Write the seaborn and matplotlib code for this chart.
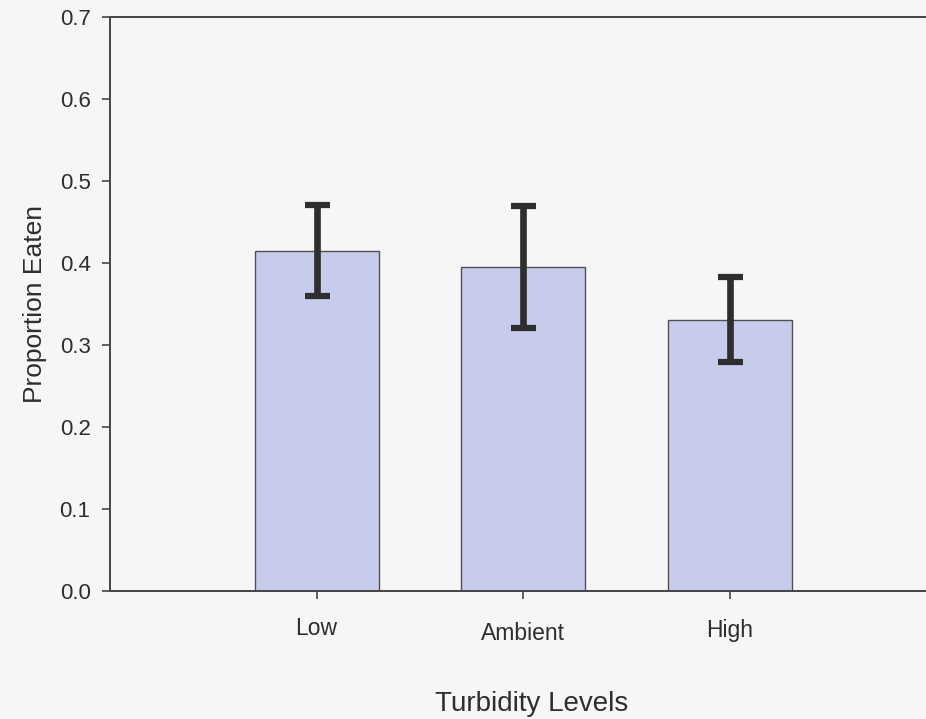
import matplotlib
matplotlib.use("Agg")
import matplotlib.pyplot as plt
import matplotlib.transforms as mtransforms
import seaborn as sns
import pandas as pd

# Mean proportion of prey eaten per turbidity treatment, with standard errors
levels = ["Low", "Ambient", "High"]
proportion_eaten = [0.415, 0.395, 0.331]
std_error = [0.0555, 0.0745, 0.0518]
y_ticks = [0.0, 0.1, 0.2, 0.3, 0.4, 0.5, 0.6, 0.7]

df = pd.DataFrame({"Turbidity": levels, "Proportion": proportion_eaten})

sns.set_theme(style="white")
plt.rcParams["font.family"] = ["Liberation Sans", "DejaVu Sans"]

bg = "#f6f6f7"
ink = "#2e2e2e"
spine_col = "#454545"

fig = plt.figure(figsize=(9.26, 7.19), dpi=100, facecolor=bg)
ax = fig.add_axes([110 / 926, 128 / 719, (926 - 110) / 926, 574 / 719])
ax.set_facecolor(bg)

sns.barplot(data=df, x="Turbidity", y="Proportion", order=levels,
            color="#c7ccec", saturation=1, width=0.6, errorbar=None,
            edgecolor="#505050", linewidth=1.0, ax=ax)

eb = ax.errorbar(range(len(levels)), proportion_eaten, yerr=std_error,
                 fmt="none", ecolor=ink, elinewidth=4.8, capsize=9,
                 capthick=4.5, zorder=5)
for col in eb.lines[2]:
    col.set_capstyle("butt")

ax.set_xlim(-1.0, 2.95)
ax.set_ylim(0, 0.7)
ax.set_yticks(y_ticks)
ax.set_yticklabels([f"{t:.1f}" for t in y_ticks])

for side in ["left", "bottom", "top"]:
    ax.spines[side].set_visible(True)
    ax.spines[side].set_color(spine_col)
    ax.spines[side].set_linewidth(1.4)
ax.spines["right"].set_visible(False)

ax.tick_params(axis="y", direction="out", length=6, width=1.2, color=spine_col,
               labelsize=16, labelcolor=ink, pad=8, left=True)
ax.tick_params(axis="x", direction="out", length=6, width=1.2, color=spine_col,
               labelsize=16.5, labelcolor=ink, pad=13, bottom=True)

# slight vertical stagger of the category labels
offsets = {"Ambient": -5, "High": -2}
for lbl in ax.get_xticklabels():
    dy = offsets.get(lbl.get_text(), 0)
    if dy:
        lbl.set_transform(lbl.get_transform() +
                          mtransforms.ScaledTranslation(0, dy / 100, fig.dpi_scale_trans))

ax.set_xlabel("Turbidity Levels", fontsize=20, color=ink, labelpad=33)
ax.xaxis.label.set_x(0.517)
ax.set_ylabel("Proportion Eaten", fontsize=19, color=ink, labelpad=9)

fig.savefig("out.png", dpi=100, facecolor=bg)
